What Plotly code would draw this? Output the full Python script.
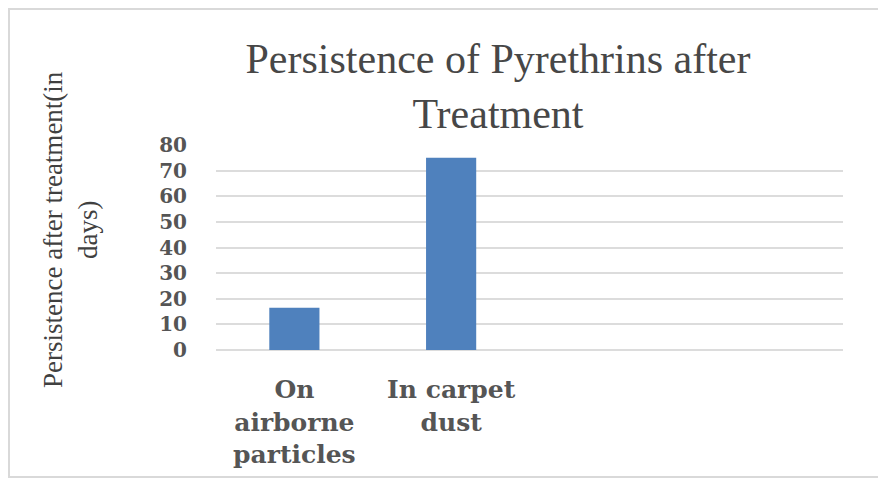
import plotly.graph_objects as go

categories = ["On<br>airborne<br>particles", "In carpet<br>dust"]
persistence_days = [16.5, 75]
y_ticks = [0, 10, 20, 30, 40, 50, 60, 70, 80]
title_text = "Persistence of Pyrethrins after<br>Treatment"
y_title = "Persistence after treatment(in<br>days)"

OFF = 8  # page body margin
W, H = 886 - OFF, 490 - OFF
L, T = 216 - OFF, 145 - OFF
R = W - (843 - OFF)
B = H - (350 - OFF)
pw, ph = W - L - R, H - T - B

positions = list(range(len(categories)))

fig = go.Figure()
fig.add_trace(go.Bar(
    x=positions, y=persistence_days,
    marker=dict(color="#4f81bd", line=dict(width=0)),
    width=0.32,
))

def px_to_paper_x(px):
    return (px - OFF - L) / pw

def px_to_paper_y(py):
    return (H - B - (py - OFF)) / ph

SERIF = "Liberation Serif, Times New Roman, serif"

fig.update_layout(
    width=W, height=H,
    margin=dict(l=L, r=R, t=T, b=B),
    paper_bgcolor="white", plot_bgcolor="white",
    showlegend=False,
    title=dict(
        text=title_text, x=(498 - OFF) / W, xanchor="center",
        y=1 - (36 + 29) / H, yanchor="top", yref="container",
        font=dict(family=SERIF, size=42, color="#474747"),
    ),
    xaxis=dict(
        range=[-0.5, 3.5], tickvals=positions, ticktext=categories,
        showgrid=False, zeroline=False, showline=False, ticks="",
        tickfont=dict(family="DejaVu Serif", size=25, color="#555555", weight="bold"),
        ticklabelstandoff=22,
    ),
    yaxis=dict(
        range=[0, 80], tickvals=y_ticks,
        showgrid=True, gridcolor="#dcdcdc", gridwidth=2,
        zeroline=True, zerolinecolor="#dcdcdc", zerolinewidth=2,
        showline=False, ticks="",
        tickfont=dict(family="DejaVu Serif", size=20, color="#555555", weight="bold"),
        ticklabelstandoff=28,
    ),
    annotations=[dict(
        text=y_title, textangle=-90,
        x=px_to_paper_x(70), y=px_to_paper_y(230),
        xref="paper", yref="paper", xanchor="center", yanchor="middle",
        showarrow=False,
        font=dict(family=SERIF, size=27, color="#404040"),
    )],
    shapes=[dict(
        type="rect", xref="paper", yref="paper",
        x0=px_to_paper_x(OFF + 1), x1=px_to_paper_x(879),
        y0=px_to_paper_y(477), y1=px_to_paper_y(OFF + 1),
        line=dict(color="#d9d9d9", width=2), fillcolor="rgba(0,0,0,0)",
        layer="below",
    )],
)

fig.write_html("out.html")
